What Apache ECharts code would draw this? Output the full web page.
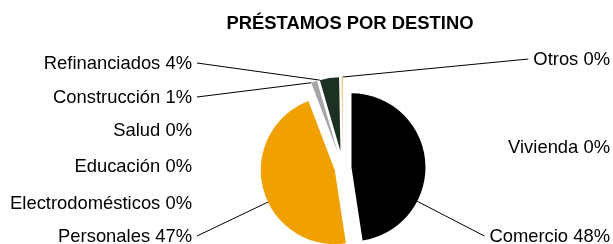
<!DOCTYPE html>
<html>
<head>
<meta charset="utf-8">
<script src="https://cdn.jsdelivr.net/npm/echarts@6/dist/echarts.min.js"></script>
<style>
html,body{margin:0;padding:0;background:#fff;}
#chart{width:613px;height:244px;}
</style>
</head>
<body>
<div id="chart"></div>
<script>
// destinos del préstamo (orden horario desde arriba)
var categories = ['Vivienda', 'Comercio', 'Personales', 'Electrodomésticos', 'Educación', 'Salud', 'Construcción', 'Refinanciados', 'Otros'];
var values = [0, 47.6, 46.6, 0, 0, 0, 1.3, 4.2, 0.3];
var colors = ['#7f7f7f', '#000000', '#f0a000', '#7f7f7f', '#7f7f7f', '#7f7f7f', '#a6a6a6', '#1c3024', '#f5c27a'];
// separación de cada sector (px)
var explode = [8.5, 8.5, 8.5, 8.5, 8.5, 8.5, 17, 17, 17];

// posición de las etiquetas (x del borde derecho, y centro)
var labelPos = [
    [610, 148], [610, 237], [192, 237], [192, 204], [192, 167],
    [192, 131], [192, 98], [192, 64], [610, 60]
];

var pieCenter = [343, 168];
var pieRadius = 74;
var lineGap = 5;

var chart = echarts.init(document.getElementById('chart'));

var total = values.reduce(function (a, b) { return a + b; }, 0);

//扇区几何:起止角度(顺时针,从正上方)和偏移后的圆心
var sliceStart = [], sliceEnd = [], sliceCenter = [];
var cum = 0;
values.forEach(function (v, k) {
    var a0 = cum / total * 360;
    cum += v;
    var a1 = cum / total * 360;
    var mid = (a0 + a1) / 2 * Math.PI / 180;
    sliceStart.push(a0);
    sliceEnd.push(a1);
    sliceCenter.push([pieCenter[0] + explode[k] * Math.sin(mid), pieCenter[1] - explode[k] * Math.cos(mid)]);
});

//引导线起点:朝向标签方向,限制在扇区角度范围内
function anchorPoint(k, target) {
    var c = sliceCenter[k];
    var a = Math.atan2(target[0] - c[0], -(target[1] - c[1])) * 180 / Math.PI;
    var s = sliceStart[k], e = sliceEnd[k];
    a = ((a - s) % 360 + 360) % 360 + s;
    if (a > e) {
        var dE = a - e, dS = s + 360 - a;
        a = dE < dS ? e : s;
    }
    var r = a * Math.PI / 180;
    return [c[0] + pieRadius * Math.sin(r), c[1] - pieRadius * Math.cos(r)];
}

var series = categories.map(function (name, k) {
    return {
        type: 'pie',
        silent: true,
        center: sliceCenter[k],
        radius: [0, pieRadius],
        startAngle: 90,
        clockwise: true,
        percentPrecision: 0,
        avoidLabelOverlap: false,
        emphasis: {disabled: true},
        itemStyle: {borderWidth: 0},
        label: {
            formatter: '{b} {d}%',
            fontFamily: 'Liberation Sans',
            fontSize: 18.4,
            color: '#000'
        },
        labelLine: {
            lineStyle: {color: '#000', width: 1}
        },
        labelLayout: function (p) {
            var i = p.dataIndex;
            var pos = labelPos[i];
            var res = {x: pos[0], y: pos[1], align: 'right', verticalAlign: 'middle'};
            if (values[i] > 0) {
                var end = pos[0] < pieCenter[0]
                    ? [pos[0] + lineGap, pos[1] - 1]
                    : [pos[0] - p.labelRect.width - lineGap, pos[1] - 1];
                res.labelLinePoints = [anchorPoint(i, end), end];
            }
            return res;
        },
        data: categories.map(function (n, i) {
            return {
                name: n,
                value: values[i],
                itemStyle: {color: i === k ? colors[i] : 'rgba(0,0,0,0)'},
                label: {show: i === k},
                labelLine: {show: i === k && values[i] > 0}
            };
        })
    };
});

var option = {
    animation: false,
    title: {
        text: 'PRÉSTAMOS POR DESTINO',
        left: 345,
        top: 10,
        textAlign: 'center',
        textStyle: {
            fontFamily: 'Liberation Sans',
            fontSize: 18.4,
            fontWeight: 'bold',
            color: '#000'
        }
    },
    series: series
};

chart.setOption(option);
</script>
</body>
</html>
